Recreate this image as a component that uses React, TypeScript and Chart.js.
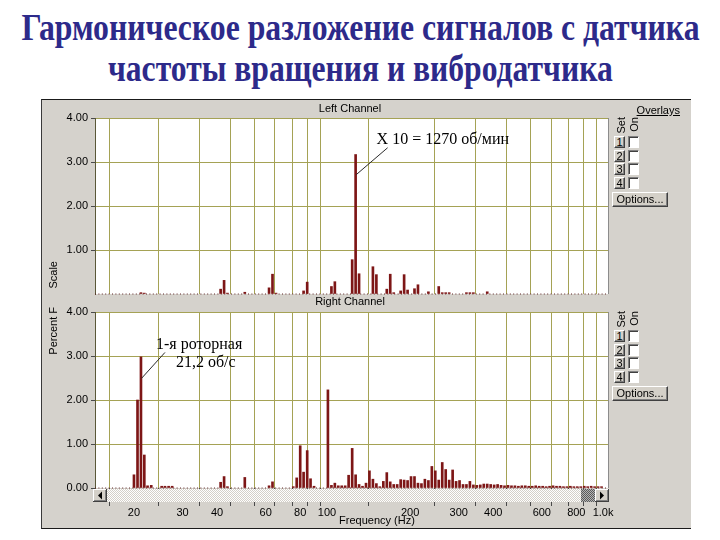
import React, { useEffect, useLayoutEffect, useRef, useState } from 'react';
import { Chart, registerables } from 'chart.js';

Chart.register(...registerables);

// ---------- data ----------
const TITLE_LINES = ['Гармоническое разложение сигналов с датчика', 'частоты вращения и вибродатчика'];
const LEFT_TITLE = 'Left Channel';
const RIGHT_TITLE = 'Right Channel';
const X_TITLE = 'Frequency (Hz)';
const Y_TITLE_TOP = 'Scale';
const Y_TITLE_BOTTOM = 'Percent F';
const OVERLAY_TITLE = 'Overlays';
const OVERLAY_SETS = ['1', '2', '3', '4'];
const NOTE_TOP = ['X 10 = 1270 об/мин'];
const NOTE_BOTTOM = ['1-я роторная', '21,2 об/с'];

const X_MIN = 14.45;
const X_MAX = 1042;
const X_TICKS = [20, 30, 40, 50, 60, 70, 80, 90, 100, 200, 300, 400, 500, 600, 700, 800, 900, 1000];
const X_LABELS = ['20', '30', '40', '', '60', '', '80', '', '100', '200', '300', '400', '', '600', '', '800', '', '1.0k'];
const Y_TICKS = [0, 1, 2, 3, 4];

const LEFT_FREQ = [21.2, 21.8, 41.2, 42.4, 43.6, 50.4, 61.7, 63.5, 65.4, 82.3, 84.8, 103.8, 106.8, 123.4, 127.0, 130.7,
  146.7, 151.0, 164.7, 169.5, 174.5, 184.9, 190.3, 195.9, 207.5, 213.6, 233.0, 254.0, 261.5, 269.2, 277.1, 320.0,
  329.4, 339.1, 380.6];
const LEFT_VAL = [0.03, 0.02, 0.11, 0.31, 0.02, 0.04, 0.14, 0.45, 0.02, 0.07, 0.27, 0.17, 0.28, 0.78, 3.17, 0.46,
  0.62, 0.44, 0.11, 0.45, 0.03, 0.07, 0.44, 0.09, 0.12, 0.21, 0.05, 0.17, 0.03, 0.03, 0.03, 0.03,
  0.03, 0.03, 0.05];

const RIGHT_FREQ = [20.0, 20.6, 21.2, 21.8, 22.4, 23.1, 25.2, 25.9, 26.7, 27.5,
  41.2, 42.4, 43.6, 50.4, 61.7, 63.5, 75.5, 77.7, 80.0, 82.3,
  84.8, 87.2, 89.8, 100.8, 103.8, 106.8, 109.9, 113.1, 116.4, 119.8,
  123.4, 127.0, 130.7, 134.5, 138.5, 142.5, 146.7, 151.0, 155.4, 160.0,
  164.7, 169.5, 174.5, 179.6, 184.9, 190.3, 195.9, 201.6, 207.5, 213.6,
  219.9, 226.3, 233.0, 239.8, 246.8, 254.0, 261.5, 269.2, 277.1, 285.2,
  293.5, 302.1, 311.0, 320.0, 329.4, 339.1, 349.0, 359.2, 369.8, 380.6,
  391.7, 403.2, 415.0, 427.2, 439.7, 452.6, 465.9, 479.5, 493.6, 508.0,
  522.9, 538.3, 554.0, 570.3, 587.0, 604.2, 621.9, 640.1, 658.9, 678.2,
  698.0, 718.5, 739.5, 761.2, 783.5, 806.5, 830.1, 854.5, 879.5, 905.3,
  931.8, 959.1, 987.3];
const RIGHT_VAL = [0.30, 2.00, 2.98, 0.75, 0.05, 0.06, 0.04, 0.04, 0.04, 0.04,
  0.13, 0.26, 0.03, 0.24, 0.05, 0.14, 0.03, 0.23, 0.96, 0.36,
  0.85, 0.21, 0.04, 2.23, 0.06, 0.11, 0.05, 0.05, 0.05, 0.29,
  0.90, 0.30, 0.08, 0.04, 0.11, 0.39, 0.20, 0.10, 0.03, 0.15,
  0.35, 0.14, 0.08, 0.08, 0.19, 0.18, 0.17, 0.26, 0.26, 0.11,
  0.10, 0.20, 0.17, 0.49, 0.39, 0.18, 0.58, 0.42, 0.18, 0.41,
  0.15, 0.17, 0.08, 0.08, 0.15, 0.07, 0.06, 0.07, 0.09, 0.09,
  0.08, 0.07, 0.08, 0.06, 0.05, 0.06, 0.05, 0.05, 0.04, 0.05,
  0.05, 0.04, 0.04, 0.05, 0.04, 0.04, 0.03, 0.04, 0.05, 0.04,
  0.04, 0.03, 0.03, 0.04, 0.03, 0.03, 0.03, 0.04, 0.03, 0.04,
  0.03, 0.03, 0.03];

// ---------- styles ----------
const UI_FONT = '"Liberation Sans", Arial, sans-serif';
const SERIF = '"Liberation Serif", "Times New Roman", serif';
const GRID = '#a5a255';
const BAR = '#7d1616';
const PANEL = '#d5d2cc';

function makePattern(a: string, b: string) {
  const pc = document.createElement('canvas');
  pc.width = 2; pc.height = 2;
  const p = pc.getContext('2d')!;
  p.fillStyle = a; p.fillRect(0, 0, 2, 2);
  p.fillStyle = b; p.fillRect(0, 0, 1, 1); p.fillRect(1, 1, 1, 1);
  return pc;
}

function drawButton(ctx: CanvasRenderingContext2D, x: number, y: number, w: number, h: number, dir: number) {
  ctx.fillStyle = '#d4d0c8';
  ctx.fillRect(x, y, w, h);
  ctx.fillStyle = '#ffffff';
  ctx.fillRect(x, y, w, 1); ctx.fillRect(x, y, 1, h);
  ctx.fillStyle = '#404040';
  ctx.fillRect(x, y + h - 1, w, 1); ctx.fillRect(x + w - 1, y, 1, h);
  ctx.fillStyle = '#808080';
  ctx.fillRect(x + 1, y + h - 2, w - 2, 1); ctx.fillRect(x + w - 2, y + 1, 1, h - 2);
  const cx = x + w / 2, cy = y + h / 2;
  ctx.fillStyle = '#000';
  ctx.beginPath();
  ctx.moveTo(cx - 2 * dir, cy);
  ctx.lineTo(cx + 2 * dir, cy - 4);
  ctx.lineTo(cx + 2 * dir, cy + 4);
  ctx.closePath();
  ctx.fill();
}

const decorPlugin = {
  id: 'decor',
  beforeDraw(chart: any) {
    const { ctx, chartArea: a } = chart;
    ctx.save();
    ctx.fillStyle = '#ffffff';
    ctx.fillRect(a.left, a.top, a.right - a.left, a.bottom - a.top);
    ctx.restore();
  },
  afterDraw(chart: any, _args: any, opts: any) {
    const { ctx, chartArea: a, scales } = chart;
    ctx.save();
    ctx.strokeStyle = '#8c8c8c';
    ctx.lineWidth = 1;
    ctx.beginPath();
    ctx.moveTo(Math.round(a.right) + 0.5, a.top);
    ctx.lineTo(Math.round(a.right) + 0.5, a.bottom);
    ctx.stroke();

    if (opts.scrollbar) {
      const top = Math.round(a.bottom) + 1;
      const h = 13;
      const left = Math.round(a.left) - 2;
      const right = Math.round(a.right) + 1;
      ctx.fillStyle = ctx.createPattern(makePattern('#ffffff', '#d4d0c8'), 'repeat');
      ctx.fillRect(left, top, right - left, h);
      drawButton(ctx, left, top, 14, h, 1);
      ctx.fillStyle = ctx.createPattern(makePattern('#b4b4b4', '#5a5a5a'), 'repeat');
      ctx.fillRect(right - 14 - 14, top, 14, h);
      drawButton(ctx, right - 14, top, 14, h, -1);
    }

    if (opts.note) {
      const n = opts.note;
      const x0 = scales.x.getPixelForValue(n.freq);
      const y0 = scales.y.getPixelForValue(n.value);
      ctx.strokeStyle = '#2a2a2a';
      ctx.lineWidth = 1;
      ctx.beginPath();
      ctx.moveTo(x0 + 0.5, y0);
      ctx.lineTo(x0 + n.dx, y0 + n.dy);
      ctx.stroke();
      ctx.fillStyle = '#000';
      ctx.font = `16px ${SERIF}`;
      ctx.textBaseline = 'middle';
      ctx.textAlign = 'left';
      n.lines.forEach((t: string, i: number) => ctx.fillText(t, x0 + n.pos[i][0], y0 + n.pos[i][1]));
    }
    ctx.restore();
  },
};

type PanelOpts = {
  freq: number[];
  val: number[];
  bottomAxis: boolean;
  padTop: number;
  padBottom: number;
  xHeight: number;
  note: any;
};

function buildConfig(o: PanelOpts): any {
  const labelFor = (v: number) => {
    const i = X_TICKS.indexOf(v);
    return i >= 0 ? X_LABELS[i] : '';
  };
  return {
    type: 'bar',
    data: {
      datasets: [
        {
          type: 'line',
          data: [{ x: X_MIN, y: 0 }, { x: X_MAX, y: 0 }],
          borderColor: '#5e2626',
          borderWidth: 1,
          borderDash: [1, 2.4],
          pointRadius: 0,
          clip: 4,
          order: 2,
        },
        {
          type: 'bar',
          data: o.freq.map((f, i) => ({ x: f, y: o.val[i] })),
          backgroundColor: BAR,
          borderWidth: 0,
          barThickness: 2,
          grouped: false,
          order: 1,
        },
      ],
    },
    options: {
      animation: false,
      responsive: false,
      events: [],
      layout: { padding: { top: o.padTop, right: 18, bottom: o.padBottom, left: 0 } },
      plugins: {
        legend: { display: false },
        tooltip: { enabled: false },
        title: { display: false },
        decor: { scrollbar: o.bottomAxis, note: o.note },
      },
      scales: {
        x: {
          type: 'logarithmic',
          min: X_MIN,
          max: X_MAX,
          afterBuildTicks: (s: any) => { s.ticks = X_TICKS.map((v) => ({ value: v })); },
          afterFit: (s: any) => { s.height = o.xHeight; s.paddingLeft = 0; s.paddingRight = 0; },
          grid: { color: GRID, lineWidth: 1, drawTicks: o.bottomAxis, tickLength: 18, tickColor: '#4a4a4a' },
          border: { display: false },
          ticks: {
            display: o.bottomAxis,
            autoSkip: false,
            maxRotation: 0,
            minRotation: 0,
            padding: 0,
            color: '#000',
            font: { family: UI_FONT, size: 11 },
            callback: (v: any) => labelFor(Number(v)),
          },
        },
        y: {
          min: 0,
          max: 4,
          afterBuildTicks: (s: any) => { s.ticks = Y_TICKS.map((v) => ({ value: v })); },
          afterFit: (s: any) => { s.width = 55; s.paddingTop = 0; s.paddingBottom = 0; },
          grid: {
            color: (c: any) => (c.tick && c.tick.value === 0 ? 'rgba(0,0,0,0)' : GRID),
            tickColor: (c: any) => (c.tick && c.tick.value === 0 && !o.bottomAxis ? 'rgba(0,0,0,0)' : '#4a4a4a'),
            tickLength: 4,
            drawTicks: true,
          },
          border: { color: '#5a5838', width: 1 },
          ticks: {
            padding: 3,
            color: '#000',
            font: { family: UI_FONT, size: 11 },
            callback: (v: any) => (Number(v) === 0 && !o.bottomAxis ? '' : Number(v).toFixed(2)),
          },
        },
      },
    },
    plugins: [decorPlugin],
  };
}

function Panel(props: PanelOpts & { left: number; top: number; width: number; height: number }) {
  const ref = useRef<HTMLCanvasElement>(null);
  useEffect(() => {
    if (!ref.current) return;
    const chart = new Chart(ref.current, buildConfig(props));
    return () => chart.destroy();
  }, []);
  return (
    <canvas
      ref={ref}
      width={props.width}
      height={props.height}
      style={{ position: 'absolute', left: props.left, top: props.top, width: props.width, height: props.height }}
    />
  );
}

function Title() {
  const r1 = useRef<HTMLSpanElement>(null);
  const r2 = useRef<HTMLSpanElement>(null);
  const [sc, setSc] = useState<[number, number]>([1, 1]);
  useLayoutEffect(() => {
    const w1 = r1.current ? r1.current.offsetWidth : 678;
    const w2 = r2.current ? r2.current.offsetWidth : 505;
    setSc([678 / w1, 505 / w2]);
  }, []);
  const line = (top: number): React.CSSProperties => ({
    position: 'absolute', left: -640, top, width: 2000, textAlign: 'center', whiteSpace: 'nowrap',
  });
  const span = (s: number): React.CSSProperties => ({
    display: 'inline-block',
    fontFamily: SERIF,
    fontWeight: 'bold',
    fontSize: 37,
    lineHeight: '37px',
    color: '#2d2a8a',
    transform: `scaleX(${s})`,
    transformOrigin: 'center',
  });
  return (
    <>
      <div style={line(9)}><span ref={r1} style={span(sc[0])}>{TITLE_LINES[0]}</span></div>
      <div style={line(50)}><span ref={r2} style={span(sc[1])}>{TITLE_LINES[1]}</span></div>
    </>
  );
}

const txt = (extra: React.CSSProperties): React.CSSProperties => ({
  position: 'absolute', fontFamily: UI_FONT, fontSize: 11, lineHeight: '13px', color: '#000', whiteSpace: 'nowrap', ...extra,
});
const vert = (left: number, top: number): React.CSSProperties => ({
  position: 'absolute', left, top, fontFamily: UI_FONT, fontSize: 11, lineHeight: '11px', color: '#000',
  writingMode: 'vertical-rl', transform: 'rotate(180deg)', whiteSpace: 'nowrap',
});
const btn = (left: number, top: number, width: number, height: number): React.CSSProperties => ({
  position: 'absolute', left, top, width, height, boxSizing: 'border-box', background: '#d4d0c8',
  borderTop: '1px solid #ffffff', borderLeft: '1px solid #ffffff', borderRight: '1px solid #404040',
  borderBottom: '1px solid #404040', boxShadow: 'inset -1px -1px 0 #808080', fontFamily: UI_FONT, fontSize: 11,
  lineHeight: `${height - 2}px`, textAlign: 'center', color: '#000',
});
const chk = (left: number, top: number): React.CSSProperties => ({
  position: 'absolute', left, top, width: 11, height: 12, boxSizing: 'border-box', background: '#ffffff',
  borderTop: '1px solid #808080', borderLeft: '1px solid #808080', borderRight: '1px solid #ffffff',
  borderBottom: '1px solid #ffffff', boxShadow: 'inset 1px 1px 0 #404040',
});

function Overlay({ base, showTitle }: { base: number; showTitle: boolean }) {
  return (
    <>
      {showTitle && <div style={txt({ left: 630, top: 104, width: 50, textAlign: 'right', textDecoration: 'underline' })}>{OVERLAY_TITLE}</div>}
      <div style={vert(616, base)}>Set</div>
      <div style={vert(629, base)}>On</div>
      {OVERLAY_SETS.map((s, i) => (
        <React.Fragment key={s}>
          <div style={btn(614, base + 19 + Math.round(i * 13.7), 11, 12)}>{s}</div>
          <div style={chk(628, base + 19 + Math.round(i * 13.7))} />
        </React.Fragment>
      ))}
      <div style={btn(612, base + 75, 56, 15)}>Options...</div>
    </>
  );
}

export default function App() {
  return (
    <div style={{ position: 'absolute', left: 0, top: 0, width: 720, height: 540, background: '#fff', overflow: 'hidden' }}>
      <Title />
      <div
        style={{
          position: 'absolute', left: 41, top: 99, width: 649, height: 428, background: PANEL,
          borderTop: '1px solid #1a1a1a', borderLeft: '1px solid #3a3a3a', borderBottom: '1px solid #1a1a1a',
        }}
      />
      <Panel
        left={40} top={100} width={586} height={196}
        freq={LEFT_FREQ} val={LEFT_VAL} bottomAxis={false} padTop={18} padBottom={2} xHeight={0}
        note={{ freq: 127.0, value: 2.71, dx: 32, dy: -27, lines: NOTE_TOP, pos: [[21, -35]] }}
      />
      <Panel
        left={40} top={300} width={586} height={228}
        freq={RIGHT_FREQ} val={RIGHT_VAL} bottomAxis={true} padTop={12} padBottom={0} xHeight={40}
        note={{ freq: 21.2, value: 2.49, dx: 24, dy: -26, lines: NOTE_BOTTOM, pos: [[15, -34], [35, -16]] }}
      />
      <div style={txt({ left: 250, top: 102, width: 200, textAlign: 'center' })}>{LEFT_TITLE}</div>
      <div style={txt({ left: 250, top: 295, width: 200, textAlign: 'center' })}>{RIGHT_TITLE}</div>
      <div style={txt({ left: 277, top: 514, width: 200, textAlign: 'center' })}>{X_TITLE}</div>
      <div style={vert(48, 261)}>{Y_TITLE_TOP}</div>
      <div style={vert(48, 307)}>{Y_TITLE_BOTTOM}</div>
      <Overlay base={117} showTitle={true} />
      <Overlay base={311} showTitle={false} />
    </div>
  );
}
